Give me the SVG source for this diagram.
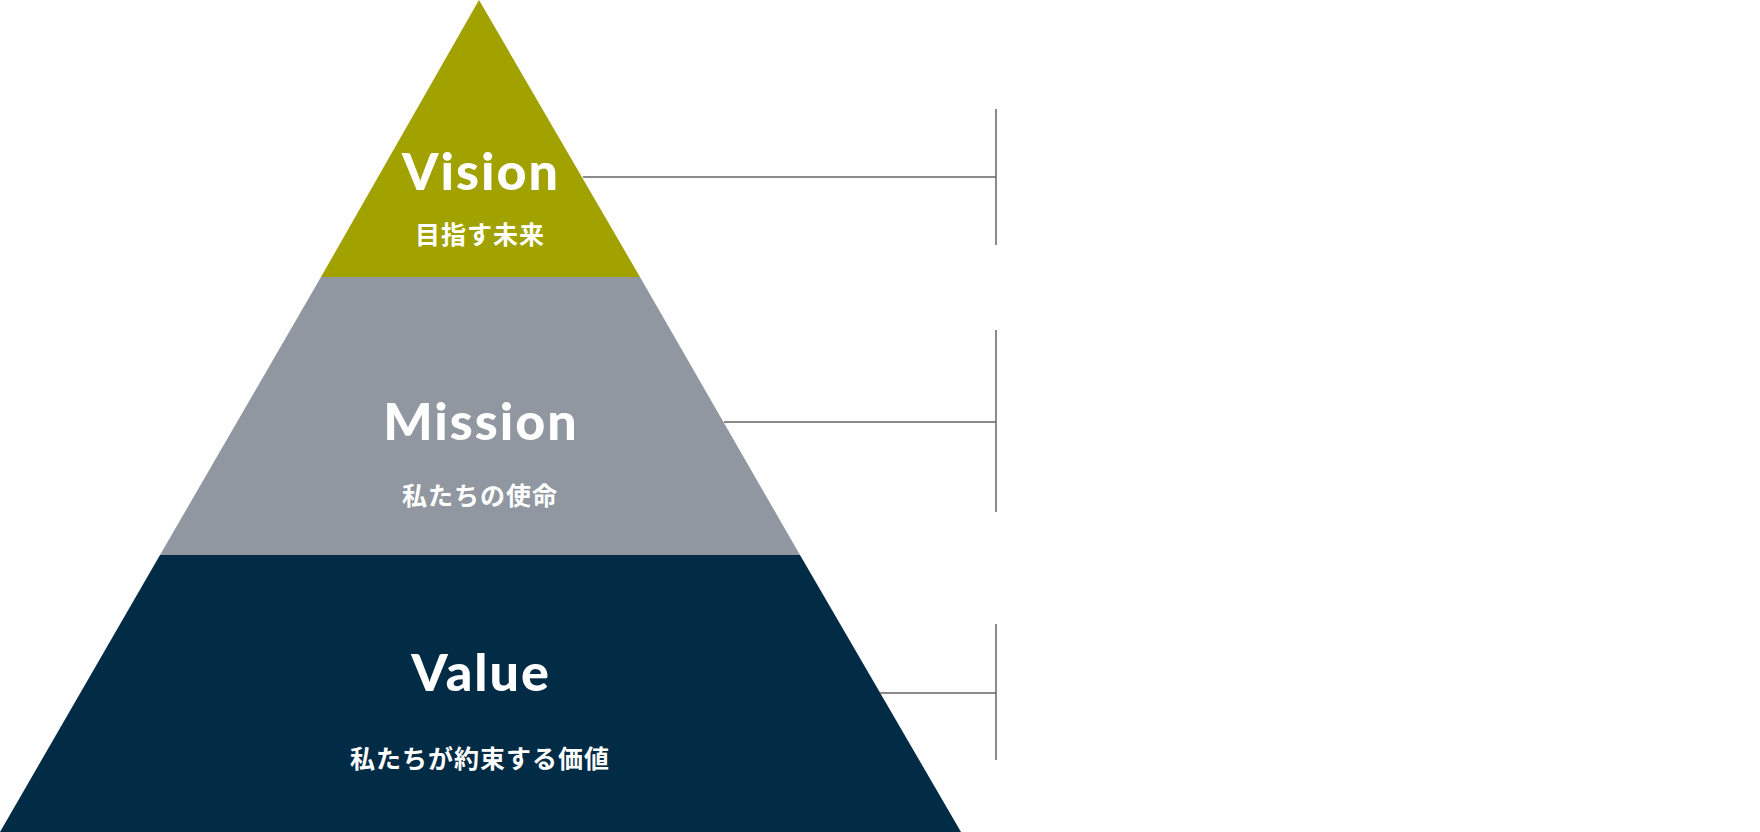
<svg xmlns="http://www.w3.org/2000/svg" width="1760" height="832" viewBox="0 0 1760 832">
<style>
.en{font-family:Lato,"Noto Sans",sans-serif;font-weight:900;font-size:52px;letter-spacing:2px;fill:#fff;text-anchor:middle}
.ja{font-family:"Noto Sans CJK JP",sans-serif;font-weight:700;font-size:25px;letter-spacing:1px;fill:#fff;text-anchor:middle}
.ln{stroke:#666;stroke-width:1.5;fill:none}
</style>
<rect width="1760" height="832" fill="#fff"/>
<g id="vision">
<polygon points="479,0 640,277 321,277" fill="#a1a200"/>
<text class="en" x="481" y="190">Vision</text>
<text class="ja" x="480" y="244">目指す未来</text>
</g>
<g id="mission">
<polygon points="321,277 640,277 800,555 160,555" fill="#9197a0"/>
<text class="en" x="481" y="440">Mission</text>
<text class="ja" x="480" y="505">私たちの使命</text>
</g>
<g id="value">
<polygon points="160,555 800,555 961,832 0,832" fill="#022b45"/>
<text class="en" x="481" y="691">Value</text>
<text class="ja" x="480" y="768">私たちが約束する価値</text>
</g>
<g id="connectors">
<path class="ln" d="M583,177H996M996,109V245"/>
<path class="ln" d="M724,422H996M996,330V512"/>
<path class="ln" d="M880,693H996M996,624V760"/>
</g>
</svg>
